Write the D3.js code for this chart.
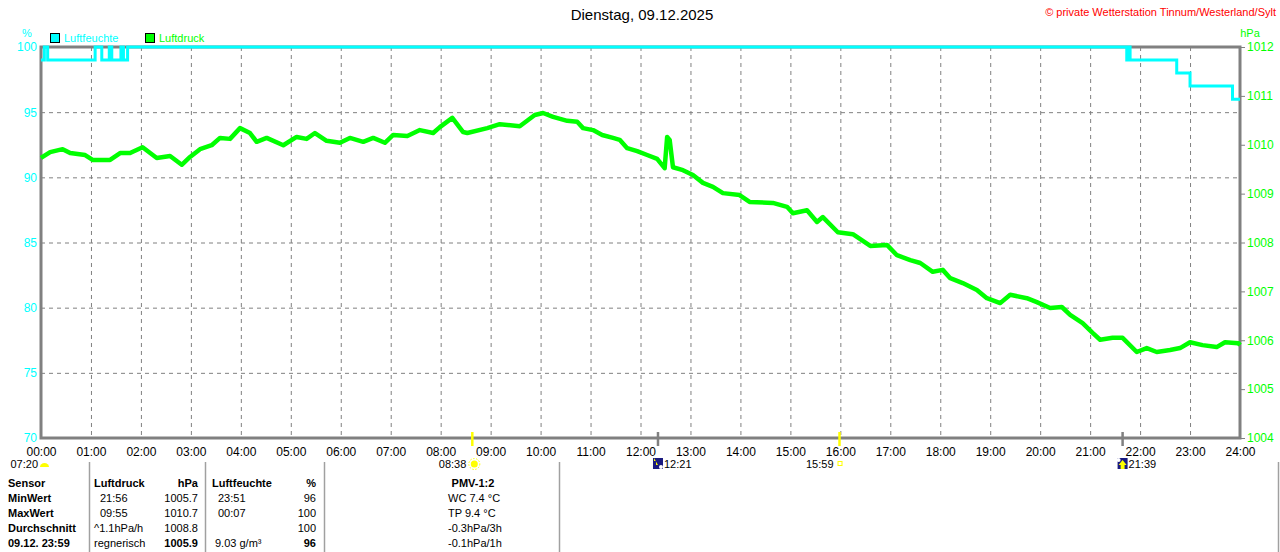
<!DOCTYPE html>
<html>
<head>
<meta charset="utf-8">
<script src="https://cdn.jsdelivr.net/npm/d3@7"></script>
<style>
  body { margin: 0; background: #fff; }
  text { font-family: "Liberation Sans", Arial, sans-serif; }
</style>
</head>
<body>
<script>
// values (minutes since midnight)
const pressure = [
  [0, 1009.73], [11, 1009.85], [26, 1009.91], [35, 1009.83], [53, 1009.79], [62, 1009.69],
  [83, 1009.69], [95, 1009.83], [107, 1009.83], [122, 1009.95], [139, 1009.73], [155, 1009.77],
  [169, 1009.59], [179, 1009.75], [191, 1009.91], [205, 1009.99], [215, 1010.14], [227, 1010.12],
  [239, 1010.34], [251, 1010.24], [259, 1010.06], [271, 1010.14], [291, 1009.99], [307, 1010.16],
  [319, 1010.12], [329, 1010.24], [343, 1010.08], [359, 1010.04], [371, 1010.14], [387, 1010.06],
  [399, 1010.14], [413, 1010.04], [423, 1010.20], [440, 1010.18], [455, 1010.30], [471, 1010.24],
  [479, 1010.36], [494, 1010.55], [507, 1010.26], [512, 1010.24], [536, 1010.34], [551, 1010.42],
  [575, 1010.38], [593, 1010.61], [603, 1010.65], [615, 1010.57], [632, 1010.49], [644, 1010.47],
  [651, 1010.34], [663, 1010.30], [674, 1010.20], [687, 1010.14], [695, 1010.10], [704, 1009.93],
  [716, 1009.87], [728, 1009.79], [740, 1009.71], [749, 1009.52], [752, 1010.16], [755, 1010.10],
  [759, 1009.54], [771, 1009.48], [783, 1009.38], [795, 1009.22], [807, 1009.14], [819, 1009.01],
  [839, 1008.97], [851, 1008.83], [879, 1008.81], [896, 1008.73], [903, 1008.60], [920, 1008.66],
  [932, 1008.42], [939, 1008.52], [957, 1008.21], [975, 1008.17], [996, 1007.93], [1016, 1007.95],
  [1028, 1007.74], [1044, 1007.64], [1056, 1007.58], [1071, 1007.40], [1083, 1007.44], [1092, 1007.27],
  [1107, 1007.17], [1124, 1007.03], [1136, 1006.86], [1152, 1006.76], [1164, 1006.93], [1184, 1006.86],
  [1196, 1006.78], [1212, 1006.66], [1226, 1006.68], [1236, 1006.52], [1251, 1006.35], [1263, 1006.15],
  [1272, 1006.01], [1287, 1006.05], [1299, 1006.05], [1316, 1005.76], [1328, 1005.84], [1340, 1005.76],
  [1356, 1005.80], [1368, 1005.84], [1380, 1005.96], [1395, 1005.90], [1412, 1005.86], [1422, 1005.96],
  [1438, 1005.94], [1440, 1005.9]
];

const humidity = [
  [0, 99], [4, 100], [8, 99], [65, 100], [73, 99], [82, 100], [85, 99], [96, 100], [99, 99],
  [104, 100], [1304, 99], [1306, 100], [1308, 99], [1364, 98], [1380, 97], [1431, 96], [1440, 96]
];

const hourTicks = d3.range(0, 25).map(h => h * 60);
const humTicks = [70, 75, 80, 85, 90, 95, 100];
const presTicks = [1004, 1005, 1006, 1007, 1008, 1009, 1010, 1011, 1012];

// events below the time axis
const events = [
  { t: 518, label: "08:38", kind: "sun", mark: "#ffff00", side: "left" },
  { t: 741, label: "12:21", kind: "down", mark: "#808080", side: "right" },
  { t: 959, label: "15:59", kind: "square", mark: "#ffff00", side: "left" },
  { t: 1299, label: "21:39", kind: "up", mark: "#808080", side: "right" }
];
const dawnLabel = "07:20";

// table
const tableHeader = ["Sensor", "Luftdruck", "hPa", "Luftfeuchte", "%", "PMV-1:2"];
const rowLabels = ["MinWert", "MaxWert", "Durchschnitt", "09.12. 23:59"];
const presInfo = ["21:56", "09:55", "^1.1hPa/h", "regnerisch"];
const presVals = ["1005.7", "1010.7", "1008.8", "1005.9"];
const humInfo = ["23:51", "00:07", "", "9.03 g/m³"];
const humVals = ["96", "100", "100", "96"];
const pmvVals = ["WC 7.4 °C", "TP 9.4 °C", "-0.3hPa/3h", "-0.1hPa/1h"];

const W = 1280, H = 552;
const L = 41, R = 1240, T = 47, B = 438;
const grey = "#808080", cyan = "#00ffff", green = "#00ff00";

const svg = d3.select("body").append("svg")
  .attr("width", W).attr("height", H);
svg.append("rect").attr("width", W).attr("height", H).attr("fill", "#fff");

const x = d3.scaleLinear().domain([0, 1440]).range([L, R]);
const yH = d3.scaleLinear().domain([70, 100]).range([B, T]);
const yP = d3.scaleLinear().domain([1004, 1012]).range([B, T]);

// titles
svg.append("text").attr("x", 642).attr("y", 20).attr("text-anchor", "middle")
  .attr("font-size", 15).attr("fill", "#000").text("Dienstag, 09.12.2025");
svg.append("text").attr("x", 1276).attr("y", 16).attr("text-anchor", "end")
  .attr("font-size", 11).attr("fill", "#ff0000")
  .text("© private Wetterstation Tinnum/Westerland/Sylt");
svg.append("text").attr("x", 27).attr("y", 37).attr("text-anchor", "middle")
  .attr("font-size", 11).attr("fill", cyan).text("%");
svg.append("text").attr("x", 1250).attr("y", 37).attr("text-anchor", "middle")
  .attr("font-size", 11).attr("fill", green).text("hPa");

// legend
const legend = [["Luftfeuchte", cyan, 50], ["Luftdruck", green, 145]];
legend.forEach(([name, col, lx]) => {
  svg.append("rect").attr("x", lx + 0.5).attr("y", 33.5).attr("width", 9).attr("height", 9)
    .attr("fill", col).attr("stroke", "#000");
  svg.append("text").attr("x", lx + 14).attr("y", 42).attr("font-size", 11)
    .attr("fill", col).text(name);
});

// grid
const grid = svg.append("g").attr("stroke", grey).attr("stroke-dasharray", "4,4").attr("stroke-width", 1);
grid.selectAll("line.v").data(hourTicks.slice(1, -1)).join("line")
  .attr("x1", d => x(d) + 0.5).attr("x2", d => x(d) + 0.5).attr("y1", T).attr("y2", B);
grid.selectAll("line.h").data(humTicks.slice(1, -1)).join("line")
  .attr("x1", L).attr("x2", R).attr("y1", d => yH(d) + 0.5).attr("y2", d => yH(d) + 0.5);

// axes
const xAxis = svg.append("g").attr("transform", `translate(0,${B})`)
  .call(d3.axisBottom(x).tickValues(hourTicks).tickSize(0).tickPadding(9)
    .tickFormat(d => String(d / 60).padStart(2, "0") + ":00"));
xAxis.select(".domain").remove();
xAxis.selectAll("text").attr("font-size", 12).attr("fill", "#000").attr("font-family", "Liberation Sans, Arial");

const yLeft = svg.append("g").attr("transform", `translate(${L},0)`)
  .call(d3.axisLeft(yH).tickValues(humTicks).tickSize(0).tickPadding(4));
yLeft.select(".domain").remove();
yLeft.selectAll("text").attr("font-size", 12).attr("fill", cyan).attr("font-family", "Liberation Sans, Arial");

const yRight = svg.append("g").attr("transform", `translate(${R},0)`)
  .call(d3.axisRight(yP).tickValues(presTicks).tickSize(5).tickPadding(2).tickFormat(d3.format("d")));
yRight.select(".domain").remove();
yRight.selectAll("line").attr("stroke", grey);
yRight.selectAll("text").attr("font-size", 12).attr("fill", green).attr("font-family", "Liberation Sans, Arial");

// frame
svg.append("rect").attr("x", L).attr("y", T).attr("width", R - L).attr("height", B - T)
  .attr("fill", "none").attr("stroke", grey).attr("stroke-width", 3);

// event markers on the axis
svg.selectAll("line.ev").data(events).join("line")
  .attr("x1", d => x(d.t)).attr("x2", d => x(d.t)).attr("y1", B - 6).attr("y2", B + 8)
  .attr("stroke", d => d.mark).attr("stroke-width", 2.5);

// series
const presLine = d3.line().x(d => x(d[0])).y(d => yP(d[1]));
svg.append("path").datum(pressure).attr("d", presLine)
  .attr("fill", "none").attr("stroke", green).attr("stroke-width", 4.5).attr("stroke-linejoin", "round");

const humLine = d3.line().x(d => x(d[0])).y(d => yH(d[1])).curve(d3.curveStepAfter);
svg.append("path").datum(humidity).attr("d", humLine)
  .attr("fill", "none").attr("stroke", cyan).attr("stroke-width", 3);

// event labels + icons
const ev = svg.append("g");
ev.append("text").attr("x", 38).attr("y", 468).attr("text-anchor", "end")
  .attr("font-size", 11).attr("fill", "#000").text(dawnLabel);
ev.append("path").attr("d", "M40,467 A4.5,4 0 0 1 49,467 Z").attr("fill", "#ffff00");

events.forEach(e => {
  const ex = x(e.t);
  if (e.side === "left") {
    ev.append("text").attr("x", ex - 6).attr("y", 468).attr("text-anchor", "end")
      .attr("font-size", 11).attr("fill", "#000").text(e.label);
  } else {
    ev.append("text").attr("x", ex + 6).attr("y", 468)
      .attr("font-size", 11).attr("fill", "#000").text(e.label);
  }
  if (e.kind === "sun") {
    ev.append("circle").attr("cx", ex + 2).attr("cy", 464).attr("r", 3.5).attr("fill", "#ffff00");
    ev.append("circle").attr("cx", ex + 2).attr("cy", 464).attr("r", 5.5).attr("fill", "none")
      .attr("stroke", "#ffff00").attr("stroke-dasharray", "1.5,1.5");
  } else if (e.kind === "square") {
    ev.append("rect").attr("x", ex - 1.5).attr("y", 461.5).attr("width", 4).attr("height", 4)
      .attr("fill", "none").attr("stroke", "#ffff00");
  } else {
    ev.append("rect").attr("x", ex - 5).attr("y", 458).attr("width", 10).attr("height", 11).attr("fill", "#1a1a80");
    const up = e.kind === "up";
    ev.append("path").attr("d", up
        ? `M${ex - 2},469 L${ex - 2},465 L${ex - 4},465 L${ex},460 L${ex + 4},465 L${ex + 2},465 L${ex + 2},469 Z`
        : `M${ex - 4},458 L${ex - 4},461 L${ex - 2},461 L${ex - 2},465 L${ex},465 Z`)
      .attr("fill", "#ffff00");
    ev.append("circle").attr("cx", up ? ex - 4 : ex + 3).attr("cy", up ? 460 : 467).attr("r", 2).attr("fill", "#fff");
  }
});

// table
const tbl = svg.append("g").attr("font-size", 11).attr("fill", "#000");
[89, 205, 324, 559, 1278].forEach(lx => {
  tbl.append("line").attr("x1", lx + 0.5).attr("x2", lx + 0.5).attr("y1", 462).attr("y2", H)
    .attr("stroke", "#a0a0a0").attr("stroke-width", 1.5);
});
const rowY = [483, 498, 513, 528, 543].map(v => v + 4);
const hdrX = [[8, "start"], [94, "start"], [198, "end"], [212, "start"], [316, "end"], [473, "middle"]];
tableHeader.forEach((h, i) => {
  tbl.append("text").attr("x", hdrX[i][0]).attr("y", rowY[0]).attr("text-anchor", hdrX[i][1])
    .attr("font-weight", "bold").text(h);
});
rowLabels.forEach((r, i) => {
  const y = rowY[i + 1];
  const last = i === 3;
  tbl.append("text").attr("x", 8).attr("y", y).attr("font-weight", "bold").text(r);
  tbl.append("text").attr("x", i < 2 ? 100 : 94).attr("y", y).text(presInfo[i]);
  tbl.append("text").attr("x", 198).attr("y", y).attr("text-anchor", "end")
    .attr("font-weight", last ? "bold" : "normal").text(presVals[i]);
  tbl.append("text").attr("x", i < 2 ? 218 : 215).attr("y", y).text(humInfo[i]);
  tbl.append("text").attr("x", 316).attr("y", y).attr("text-anchor", "end")
    .attr("font-weight", last ? "bold" : "normal").text(humVals[i]);
  tbl.append("text").attr("x", 448).attr("y", y).text(pmvVals[i]);
});
</script>
</body>
</html>
